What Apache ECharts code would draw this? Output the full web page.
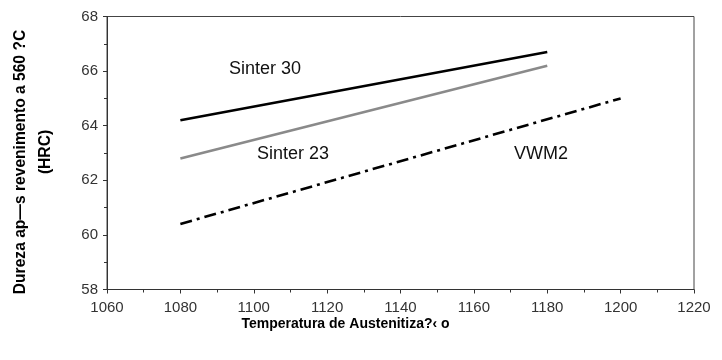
<!DOCTYPE html>
<html>
<head>
<meta charset="utf-8">
<script src="https://cdn.jsdelivr.net/npm/echarts@6/dist/echarts.min.js"></script>
<style>
  html, body { margin: 0; padding: 0; background: #fff; }
  #chart { width: 722px; height: 360px; }
</style>
</head>
<body>
<div id="chart"></div>
<script>
// temperaturas (x) e durezas (y) de cada curva
var temps30 = [1080, 1180];
var sinter30 = [64.2, 66.7];
var temps23 = [1080, 1180];
var sinter23 = [62.8, 66.2];
var tempsVWM = [1080, 1200];
var vwm2 = [60.4, 65.0];

var seriesNames = ['Sinter 30', 'Sinter 23', 'VWM2'];

var pairs = function (xs, ys) {
    return xs.map(function (x, i) { return [x, ys[i]]; });
};

var chart = echarts.init(document.getElementById('chart'));
var font = 'Arial, "Liberation Sans", sans-serif';
var plain = function (v) { return String(v); };

var option = {
    animation: false,
    grid: {
        left: 107, right: 28, top: 16.5, bottom: 70.5,
        show: true, borderColor: '#444', borderWidth: 1
    },
    xAxis: {
        type: 'value', min: 1060, max: 1220, interval: 20,
        axisLine: { lineStyle: { color: '#333', width: 1 } },
        axisTick: { show: true, length: 4, lineStyle: { color: '#333' } },
        minorTick: { show: true, splitNumber: 2, length: 3, lineStyle: { color: '#333' } },
        splitLine: { show: false },
        axisLabel: { color: '#333', fontFamily: font, fontSize: 15, margin: 11, formatter: plain }
    },
    yAxis: {
        type: 'value', min: 58, max: 68, interval: 2,
        axisLine: { show: true, lineStyle: { color: '#333', width: 1 } },
        axisTick: { show: true, length: 4, lineStyle: { color: '#333' } },
        minorTick: { show: true, splitNumber: 2, length: 3, lineStyle: { color: '#333' } },
        splitLine: { show: false },
        axisLabel: { color: '#333', fontFamily: font, fontSize: 15, margin: 9, formatter: plain }
    },
    series: [
        {
            name: seriesNames[0], type: 'line', symbol: 'none',
            data: pairs(temps30, sinter30),
            lineStyle: { color: '#000', width: 2.6 }
        },
        {
            name: seriesNames[1], type: 'line', symbol: 'none',
            data: pairs(temps23, sinter23),
            lineStyle: { color: '#8a8a8a', width: 2.6 }
        },
        {
            name: seriesNames[2], type: 'line', symbol: 'none',
            data: pairs(tempsVWM, vwm2),
            lineStyle: { color: '#000', width: 2.6, type: [12, 5, 3, 5] }
        }
    ],
    graphic: [
        { type: 'text', x: 265, y: 69, style: { text: seriesNames[0], fill: '#111', font: '18px ' + font, align: 'center', verticalAlign: 'middle' } },
        { type: 'text', x: 293, y: 154, style: { text: seriesNames[1], fill: '#111', font: '18px ' + font, align: 'center', verticalAlign: 'middle' } },
        { type: 'text', x: 541, y: 154, style: { text: seriesNames[2], fill: '#111', font: '18px ' + font, align: 'center', verticalAlign: 'middle' } },
        { type: 'text', x: 345.5, y: 324, style: { text: 'Temperatura de Austenitiza?‹ o', fill: '#000', font: 'bold 14px ' + font, align: 'center', verticalAlign: 'middle' } },
        { type: 'text', x: 21, y: 162, rotation: Math.PI / 2,
          style: { text: 'Dureza ap—s revenimento a 560 ?C', fill: '#000', font: 'bold 15.6px ' + font, align: 'center', verticalAlign: 'middle' } },
        { type: 'text', x: 46, y: 152, rotation: Math.PI / 2,
          style: { text: '(HRC)', fill: '#000', font: 'bold 15.6px ' + font, align: 'center', verticalAlign: 'middle' } }
    ]
};

chart.setOption(option);
</script>
</body>
</html>
